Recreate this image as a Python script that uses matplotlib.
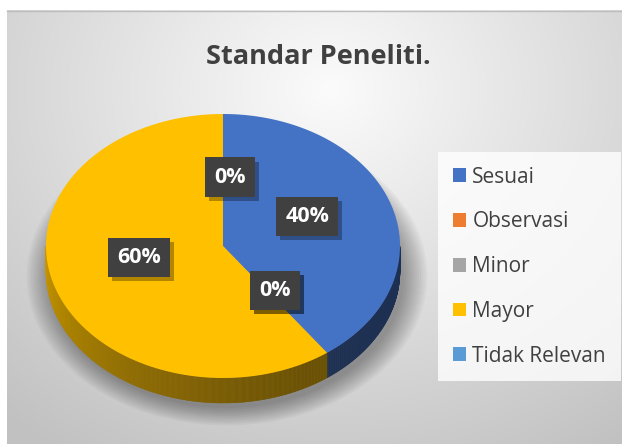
import matplotlib
matplotlib.use("Agg")
import matplotlib.pyplot as plt
import matplotlib.patheffects as pe
import numpy as np
from matplotlib.patches import Polygon, Ellipse, Patch

# data
categories = ["Sesuai", "Observasi", "Minor", "Mayor", "Tidak Relevan"]
values = [40, 0, 0, 60, 0]
colors = ["#4472C4", "#ED7D31", "#A5A5A5", "#FFC000", "#5B9BD5"]
title = "Standar Peneliti."

W, H = 622, 444
fig = plt.figure(figsize=(W / 100, H / 100), dpi=100)
ax = fig.add_axes([0, 0, 1, 1])
ax.set_xlim(0, W)
ax.set_ylim(H, 0)
ax.axis("off")

# chart area background (radial grey gradient)
xx, yy = np.meshgrid(np.linspace(7, W, 300), np.linspace(11, H, 220))
d = np.sqrt(((xx - 330) / 420) ** 2 + ((yy - 90) / 360) ** 2)
g = 0.985 - 0.19 * np.clip(d, 0, 1.2)
ax.imshow(np.dstack([g, g, g]), extent=(7, W, H, 11), aspect="auto", zorder=0)
ax.plot([7, W], [11.5, 11.5], color="#bdbdbd", lw=1, zorder=1)

# pie geometry (pixel units)
cx, cy, a, b, depth = 223, 246, 177, 132, 25


def pt(phi, r=1.0, dy=0.0):
    return cx + a * r * np.sin(phi), cy - b * r * np.cos(phi) + dy


def shade(c, f):
    rgb = np.array(matplotlib.colors.to_rgb(c))
    return tuple(np.clip(rgb * f, 0, 1))


# soft shadow below the pie
for i in range(12):
    s = 1.0 + i * 0.012
    ax.add_patch(Ellipse((cx + 4, cy + depth + 5), 2 * a * s, 2 * b * s,
                         fc="#000000", ec="none", alpha=0.03, zorder=1))

total = sum(values)
bounds = np.cumsum([0] + values) / total * 2 * np.pi

# side walls (front half only, phi between 90 and 270 deg)
for i, c in enumerate(colors):
    t0, t1 = bounds[i], bounds[i + 1]
    lo, hi = max(t0, np.pi / 2), min(t1, 3 * np.pi / 2)
    if hi <= lo:
        continue
    ts = np.linspace(lo, hi, int(200 * (hi - lo)) + 2)
    for k in range(len(ts) - 1):
        p, q = ts[k], ts[k + 1]
        m = (p + q) / 2
        f = 0.42 + 0.36 * np.clip((m - 2.6) / (4.71 - 2.6), 0, 1) ** 1.3
        x0, y0 = pt(p)
        x1, y1 = pt(q)
        ax.add_patch(Polygon([(x0, y0), (x1, y1), (x1, y1 + depth), (x0, y0 + depth)],
                             closed=True, fc=shade(c, f), ec=shade(c, f), lw=0.3, zorder=2))

# top surface
for i, c in enumerate(colors):
    t0, t1 = bounds[i], bounds[i + 1]
    if t1 <= t0:
        continue
    ts = np.linspace(t0, t1, 200)
    xs, ys = pt(ts)
    verts = [(cx, cy)] + list(zip(xs, ys))
    ax.add_patch(Polygon(verts, closed=True, fc=c, ec="none", zorder=3))

# data labels (dark boxes with a drop shadow)
lcx, lcy = cx, cy - 9
for i, v in enumerate(values):
    m = (bounds[i] + bounds[i + 1]) / 2
    lx = lcx + a * 0.5 * np.sin(m)
    ly = lcy - b * 0.5 * np.cos(m)
    if v == 0 and m % (2 * np.pi) < 0.01:
        lx += 7
        ly += 6
    t = ax.text(lx, ly, f"{v / total:.0%}", ha="center", va="center", fontsize=15.5,
                fontweight="bold", color="white", family="Open Sans", zorder=5,
                bbox=dict(boxstyle="square,pad=0.42", fc="#404040", ec="none"))
    t.get_bbox_patch().set_path_effects(
        [pe.SimplePatchShadow(offset=(3, -3), shadow_rgbFace="black", alpha=0.3), pe.Normal()])

ax.text(318, 57, title, ha="center", va="center", fontsize=19.5,
        fontweight="bold", color="#404040", family="Open Sans", zorder=5)

handles = [Patch(fc=c, ec="none", label=n) for n, c in zip(categories, colors)]
leg = ax.legend(handles=handles, loc="upper left", bbox_to_anchor=(438, 152),
                bbox_transform=ax.transData, borderaxespad=0, frameon=True,
                fancybox=False, handlelength=0.65, handleheight=0.65,
                handletextpad=0.3, labelspacing=1.14, borderpad=0.7,
                prop={"family": "Open Sans", "size": 15})
leg.get_frame().set_facecolor((1, 1, 1, 0.3))
leg.get_frame().set_edgecolor("none")
for t in leg.get_texts():
    t.set_color("#404040")

fig.savefig("out.png", dpi=100)
